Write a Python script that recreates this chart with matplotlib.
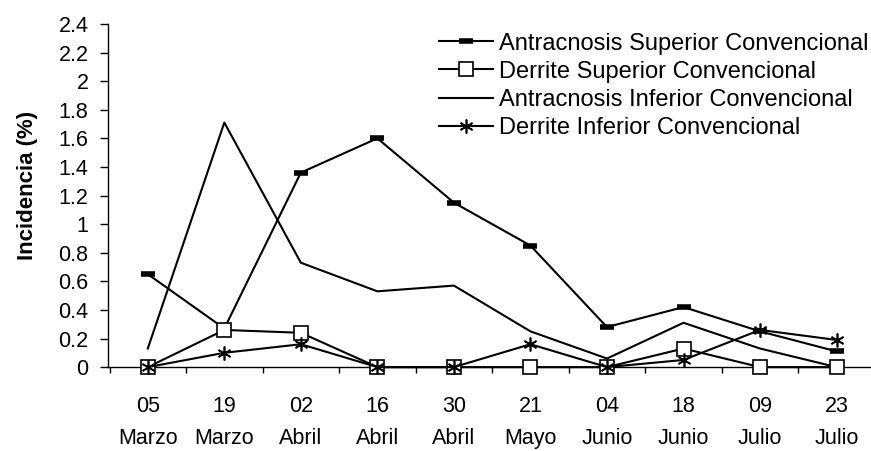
import matplotlib
matplotlib.use("Agg")
import matplotlib.pyplot as plt
from matplotlib.ticker import FixedLocator, NullFormatter

dias = ["05", "19", "02", "16", "30", "21", "04", "18", "09", "23"]
meses = ["Marzo", "Marzo", "Abril", "Abril", "Abril", "Mayo", "Junio", "Junio", "Julio", "Julio"]

antrac_sup = [0.65, 0.27, 1.36, 1.60, 1.15, 0.85, 0.28, 0.42, 0.25, 0.11]
derrite_sup = [0.0, 0.26, 0.24, 0.0, 0.0, 0.0, 0.0, 0.13, 0.0, 0.0]
antrac_inf = [0.13, 1.71, 0.73, 0.53, 0.57, 0.25, 0.06, 0.31, 0.13, 0.0]
derrite_inf = [0.0, 0.10, 0.16, 0.0, 0.0, 0.16, 0.0, 0.05, 0.26, 0.19]

yticks = [0, 0.2, 0.4, 0.6, 0.8, 1, 1.2, 1.4, 1.6, 1.8, 2, 2.2, 2.4]
ytick_labels = ["0", "0.2", "0.4", "0.6", "0.8", "1", "1.2", "1.4", "1.6", "1.8", "2", "2.2", "2.4"]

plt.rcParams['font.family'] = ['Liberation Sans', 'DejaVu Sans']

fig = plt.figure(figsize=(8.71, 4.51), dpi=100)
ax = fig.add_axes([0.124, 0.186, 0.876, 0.761])

x = list(range(len(dias)))
lw = 1.5
ax.plot(x, antrac_sup, color='black', lw=lw, marker='_', markersize=10, markeredgewidth=4,
        label='Antracnosis Superior Convencional', clip_on=False, zorder=3)
ax.plot(x, derrite_sup, color='black', lw=lw, marker='s', markersize=9.5, markerfacecolor='white',
        markeredgecolor='black', markeredgewidth=1.2, label='Derrite Superior Convencional', clip_on=False, zorder=4)
ax.plot(x, antrac_inf, color='black', lw=lw, label='Antracnosis Inferior Convencional', clip_on=False, zorder=3)
ax.plot(x, derrite_inf, color='black', lw=lw, marker=(6, 2, 0), markersize=10, markeredgewidth=1.2,
        label='Derrite Inferior Convencional', clip_on=False, zorder=5)

ax.set_xlim(-0.52, 9.45)
ax.set_ylim(0, 2.4)
ax.spines['top'].set_visible(False)
ax.spines['right'].set_visible(False)
ax.spines['left'].set_linewidth(1.0)
ax.spines['bottom'].set_linewidth(1.0)

ax.set_xticks(x)
ax.set_xticklabels([f"{d}\n{m}" for d, m in zip(dias, meses)], fontsize=15.5, linespacing=1.65)
ax.tick_params(axis='x', which='major', length=0, pad=21)
ax.xaxis.set_minor_locator(FixedLocator([i + 0.5 for i in range(-1, 10)]))
ax.xaxis.set_minor_formatter(NullFormatter())
ax.tick_params(axis='x', which='minor', length=4, direction='out', width=1)

ax.set_yticks(yticks)
ax.set_yticklabels(ytick_labels, fontsize=15.5)
ax.tick_params(axis='y', which='major', length=6, width=1, pad=8)

ax.set_ylabel('Incidencia (%)', fontsize=16, fontweight='bold')
ax.yaxis.set_label_coords(-0.092, 0.53)

leg = ax.legend(loc='upper right', bbox_to_anchor=(1.015, 1.016), frameon=False, fontsize=17,
                handlelength=2.3, handletextpad=0.25, labelspacing=0.26, borderaxespad=0.2)

fig.savefig('out.png', dpi=100)
